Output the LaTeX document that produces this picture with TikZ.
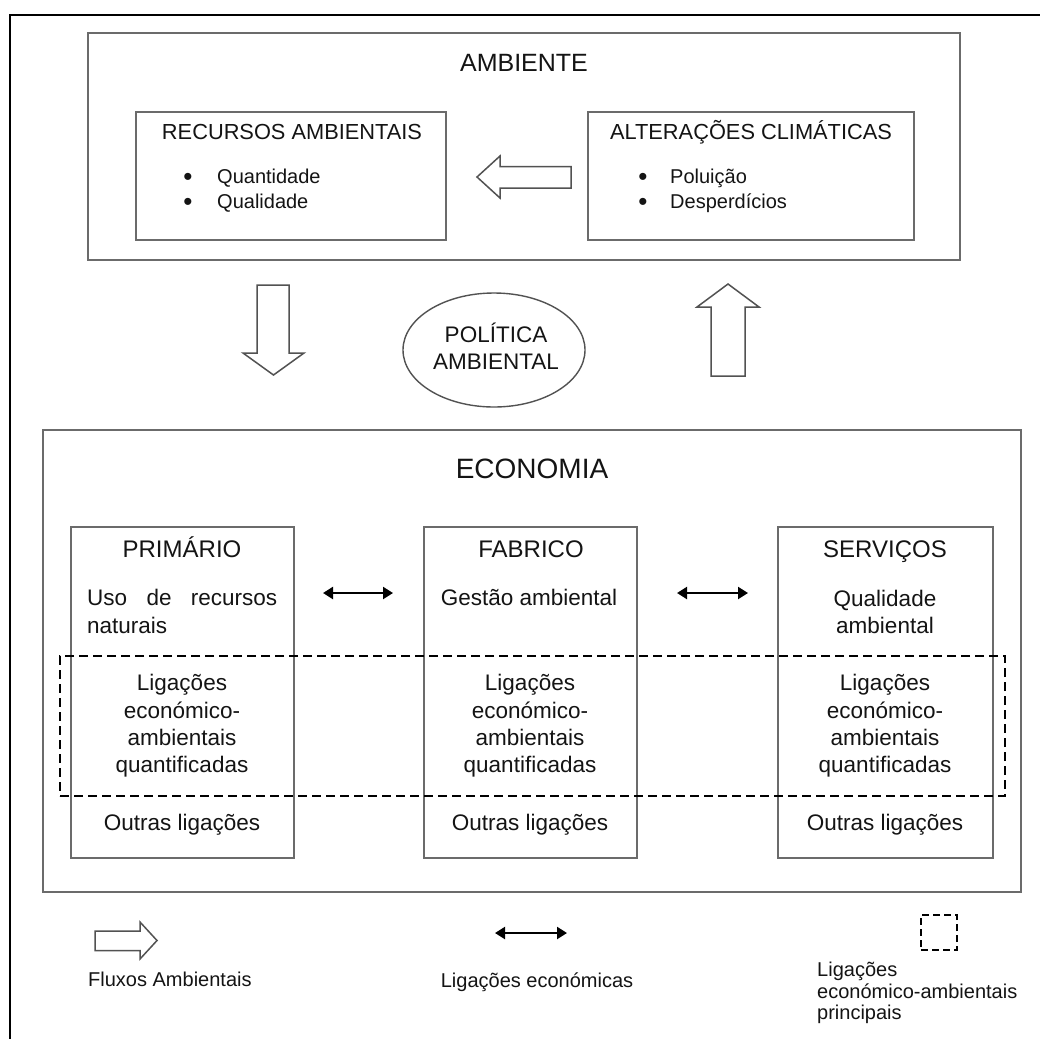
\documentclass[tikz,border=0pt]{standalone}
\usepackage{fontspec}
\setmainfont{Liberation Sans}
\usetikzlibrary{arrows.meta,shapes.geometric}
\definecolor{boxgray}{gray}{0.42}
\definecolor{arrgray}{gray}{0.32}
\definecolor{txt}{gray}{0.08}
\begin{document}
\begin{tikzpicture}[x=1pt,y=-1pt,
  box/.style={draw=boxgray, line width=1.6pt, inner sep=0pt, outer sep=0pt},
  blockarr/.style={draw=arrgray, line width=1.5pt, fill=white, line join=miter},
  econarrow/.style={line width=2.2pt, {Triangle[length=10pt,width=12pt]}-{Triangle[length=10pt,width=12pt]}},
  dashbox/.style={draw=black, line width=2.2pt, dash pattern=on 9pt off 5pt, inner sep=0pt},
  txtbase/.style={text=txt, inner sep=0pt, anchor=base},
  bigtitle/.style={txtbase, font=\fontsize{25}{30}\selectfont},
  ecotitle/.style={txtbase, font=\fontsize{28}{33}\selectfont},
  sectitle/.style={txtbase, font=\fontsize{24}{29}\selectfont},
  boxtitle/.style={txtbase, font=\fontsize{21.8}{26}\selectfont},
  item/.style={txtbase, anchor=base west, font=\fontsize{20}{24}\selectfont},
  bulletmark/.style={txtbase, font=\fontsize{26}{30}\selectfont},
  body/.style={txtbase, font=\fontsize{22.5}{27}\selectfont},
  legend/.style={txtbase, font=\fontsize{20}{24}\selectfont}
]
\useasboundingbox (0,0) rectangle (1040,1039);
\fill[white] (0,0) rectangle (1040,1039);
% outer frame
\draw[line width=2.4pt] (1040,15) -- (10,15) -- (10,1039);

% ---------------- AMBIENTE ----------------
\node[box, minimum width=872pt, minimum height=227pt] (amb) at (524,146.5) {};
\node[bigtitle] (ambT) at (524,71) {AMBIENTE};

\node[box, minimum width=310pt, minimum height=128pt] (rec) at (291,176) {};
\node[boxtitle] (recT) at (292,139.5) {RECURSOS AMBIENTAIS};
\node[bulletmark] (recB1) at (188,185) {•};
\node[item] (rec1) at (217,183) {Quantidade};
\node[bulletmark] (recB2) at (188,210) {•};
\node[item] (rec2) at (217,208) {Qualidade};

\node[box, minimum width=326pt, minimum height=128pt] (alt) at (751,176) {};
\node[boxtitle] (altT) at (751,139.5) {ALTERAÇÕES CLIMÁTICAS};
\node[bulletmark] (altB1) at (643,185) {•};
\node[item] (alt1) at (670,183) {Poluição};
\node[bulletmark] (altB2) at (643,210) {•};
\node[item] (alt2) at (670,208) {Desperdícios};

% left block arrow (alteracoes -> recursos)
\draw[blockarr] (477,177) -- (500,156) -- (500,166.5) -- (571,166.5) -- (571,188) -- (500,188) -- (500,198) -- cycle;

% down and up block arrows
\draw[blockarr] (257,285) -- (289,285) -- (289,353) -- (304,353) -- (273.5,375) -- (243,353) -- (257,353) -- cycle;
\draw[blockarr] (728,284) -- (759,307) -- (745,307) -- (745,376) -- (711,376) -- (711,307) -- (697,307) -- cycle;

% politica ambiental
\node[draw=arrgray, line width=1.4pt, ellipse, minimum width=182pt, minimum height=114pt, inner sep=0pt] (pol) at (494,350) {};
\node[txtbase, font=\fontsize{22.5}{27}\selectfont] (pol1) at (496,342) {POLÍTICA};
\node[txtbase, font=\fontsize{22.5}{27}\selectfont] (pol2) at (496,369) {AMBIENTAL};

% ---------------- ECONOMIA ----------------
\node[box, line width=1.7pt, minimum width=978pt, minimum height=462pt] (eco) at (532,661) {};
\node[ecotitle] (ecoT) at (532,478) {ECONOMIA};

\node[box, minimum width=223pt, minimum height=331pt] (prim) at (182.5,692.5) {};
\node[box, minimum width=213pt, minimum height=331pt] (fab) at (530.5,692.5) {};
\node[box, minimum width=215pt, minimum height=331pt] (serv) at (885.5,692.5) {};

\node[sectitle] (primT) at (182,557) {PRIMÁRIO};
\node[sectitle] (fabT) at (531,557) {FABRICO};
\node[sectitle] (servT) at (885,557) {SERVIÇOS};

\node[body, anchor=base west] (prim1) at (87,605) {\makebox[190pt][s]{Uso de recursos}};
\node[body, anchor=base west] (prim2) at (87,633) {naturais};
\node[body] (fab1) at (529,605) {Gestão ambiental};
\node[body] (serv1) at (885,606) {Qualidade};
\node[body] (serv2) at (885,633) {ambiental};

\foreach \cx/\nm in {182/p,530/f,885/s} {
  \node[body] (\nm-l1) at (\cx,690) {Ligações};
  \node[body] (\nm-l2) at (\cx,718) {económico-};
  \node[body] (\nm-l3) at (\cx,745) {ambientais};
  \node[body] (\nm-l4) at (\cx,772) {quantificadas};
  \node[body] (\nm-o) at (\cx,830) {Outras ligações};
}

% dashed region
\node[dashbox, minimum width=945pt, minimum height=140pt] (quant) at (532.5,726) {};

% economic links
\coordinate (rowA) at (0,593);
\draw[econarrow, shorten <=29pt, shorten >=31pt] (prim.east |- rowA) -- (fab.west |- rowA);
\draw[econarrow, shorten <=40pt, shorten >=30pt] (fab.east |- rowA) -- (serv.west |- rowA);

% ---------------- LEGEND ----------------
\draw[blockarr] (95,931) -- (140,931) -- (140,922) -- (157,940.5) -- (140,959) -- (140,950.5) -- (95,950.5) -- cycle;
\node[legend, anchor=base west] (lg1) at (88,986) {Fluxos Ambientais};

\coordinate (lgA) at (495,933);
\coordinate (lgB) at (567,933);
\draw[econarrow] (lgA) -- (lgB);
\node[legend] (lg2) at (537,987) {Ligações económicas};

\node[draw=black, line width=1.8pt, dash pattern=on 7pt off 4pt, minimum width=36pt, minimum height=35pt, inner sep=0pt] (lgsq) at (939,932.5) {};
\node[legend, anchor=base west] (lg3a) at (817,976) {Ligações};
\node[legend, anchor=base west] (lg3b) at (817,998) {económico-ambientais};
\node[legend, anchor=base west] (lg3c) at (817,1019) {principais};
\end{tikzpicture}
\end{document}
